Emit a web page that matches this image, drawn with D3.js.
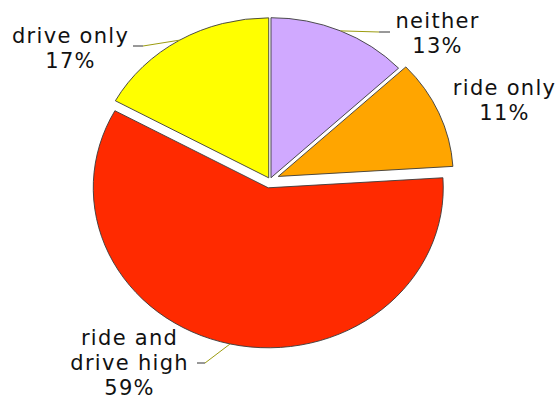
<!DOCTYPE html>
<html>
<head>
<meta charset="utf-8">
<script src="https://cdn.jsdelivr.net/npm/d3@7"></script>
<style>
  body { margin: 0; background: #fff; }
  svg { display: block; }
</style>
</head>
<body>
<div id="chart"></div>
<script>
// données du camembert
const categories = ["neither", "ride only", "ride and drive high", "drive only"];
const values = [13, 11, 59, 17];
const colors = ["#d0a9ff", "#ffa500", "#ff2a00", "#ffff00"];
// éclatement de chaque part (px)
const explode = [2.5, 9, 8, 2.5];

// position des étiquettes (centre x, ligne de base de la 1re ligne)
const labelPos = [
  { x: 437, y: 28, lines: ["neither"] },
  { x: 504, y: 95, lines: ["ride only"] },
  { x: 129, y: 345, lines: ["ride and", "drive high"] },
  { x: 70, y: 43, lines: ["drive only"] }
];
// lignes de rappel : coude puis petit segment foncé vers le texte
const leaders = [
  { show: true, elbow: [379, 32], end: [390, 32] },
  { show: false },
  { show: true, elbow: [205, 363], end: [197, 363] },
  { show: true, elbow: [143, 46], end: [133, 46] }
];

let width = 559;
let height = 404;
let cx = 270, cy = 180;
let rx = 175, ry = 160;

let svg = d3.select("#chart")
  .append("svg")
  .attr("width", width)
  .attr("height", height);

let pie = d3.pie().sort(null).value(d => d)(values);
let arc = d3.arc().innerRadius(0).outerRadius(rx);

let g = svg.append("g");

pie.forEach((p, i) => {
  let mid = (p.startAngle + p.endAngle) / 2;
  let dx = explode[i] * Math.sin(mid);
  let dy = -explode[i] * Math.cos(mid);
  g.append("path")
    .attr("d", arc(p))
    .attr("transform", `translate(${cx + dx},${cy + dy}) scale(1,${ry / rx})`)
    .attr("fill", colors[i])
    .attr("stroke", "#3a3a3a")
    .attr("stroke-width", 0.9)
    .attr("vector-effect", "non-scaling-stroke")
    .attr("stroke-linejoin", "round");

  // point sur le bord au milieu de la part
  let ex = cx + dx + rx * Math.sin(mid);
  let ey = cy + dy - ry * Math.cos(mid);
  let L = leaders[i];
  if (L.show) {
    svg.append("line")
      .attr("x1", ex).attr("y1", ey)
      .attr("x2", L.elbow[0]).attr("y2", L.elbow[1])
      .attr("stroke", "#9c9c10")
      .attr("stroke-width", 1);
    svg.append("line")
      .attr("x1", L.elbow[0]).attr("y1", L.elbow[1])
      .attr("x2", L.end[0]).attr("y2", L.end[1])
      .attr("stroke", "#333")
      .attr("stroke-width", 1);
  }

  let lp = labelPos[i];
  let lines = lp.lines.concat([values[i] + "%"]);
  let t = svg.append("text")
    .attr("text-anchor", "middle")
    .style("font-family", "'DejaVu Sans', Verdana, sans-serif")
    .style("font-size", "21px")
    .style("letter-spacing", "1.3px")
    .attr("fill", "#111");
  lines.forEach((s, k) => {
    t.append("tspan")
      .attr("x", lp.x + 0.6)
      .attr("y", lp.y + k * 25)
      .text(s);
  });
});
</script>
</body>
</html>
